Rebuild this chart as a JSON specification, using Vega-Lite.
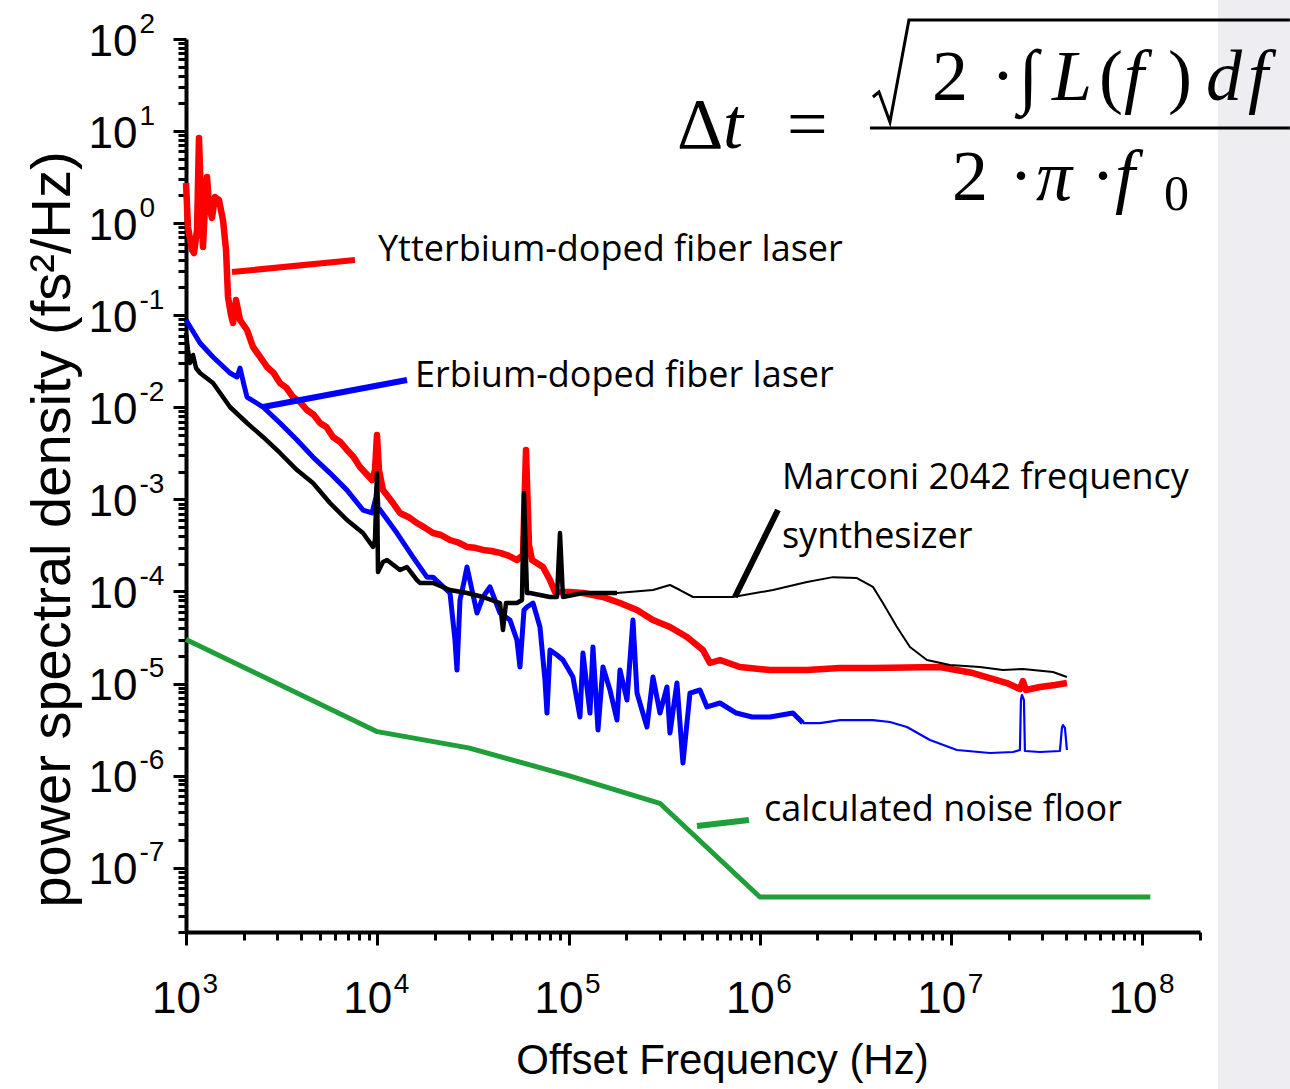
{
  "$schema": "https://vega.github.io/schema/vega-lite/v6.json",
  "autosize": {"type": "none"},
  "padding": {"left": 186, "top": 39, "right": 90, "bottom": 157},
  "width": 1014,
  "height": 893,
  "background": "white",
  "config": {"view": {"stroke": null}},
  "datasets": {
    "panel": [{"f": 2.48e8, "f2": 1e10, "p": 1e-11, "p2": 1e4}],
    "curves": [
      {"s":"Yb","f":1000,"p":2.73},{"s":"Yb","f":1024,"p":0.908},{"s":"Yb","f":1075,"p":0.511},{"s":"Yb","f":1101,"p":0.474},{"s":"Yb","f":1142,"p":0.842},{"s":"Yb","f":1169,"p":8.41},{"s":"Yb","f":1198,"p":1.78},{"s":"Yb","f":1227,"p":0.551},{"s":"Yb","f":1257,"p":1.57},{"s":"Yb","f":1288,"p":3.17},{"s":"Yb","f":1319,"p":1.57},{"s":"Yb","f":1367,"p":1.14},{"s":"Yb","f":1418,"p":1.92},{"s":"Yb","f":1488,"p":1.78},{"s":"Yb","f":1561,"p":1.08},{"s":"Yb","f":1619,"p":0.511},{"s":"Yb","f":1658,"p":0.158},{"s":"Yb","f":1719,"p":0.1005},{"s":"Yb","f":1761,"p":0.0823},{"s":"Yb","f":1826,"p":0.146},{"s":"Yb","f":1916,"p":0.0887},{"s":"Yb","f":2084,"p":0.0691},{"s":"Yb","f":2240,"p":0.0452},{"s":"Yb","f":2437,"p":0.0352},{"s":"Yb","f":2651,"p":0.0274},{"s":"Yb","f":2870,"p":0.0236},{"s":"Yb","f":3100,"p":0.01835},{"s":"Yb","f":3350,"p":0.0163},{"s":"Yb","f":3625,"p":0.01293},{"s":"Yb","f":3950,"p":0.0114},{"s":"Yb","f":4291,"p":0.00934},{"s":"Yb","f":4650,"p":0.0083},{"s":"Yb","f":5017,"p":0.00675},{"s":"Yb","f":5420,"p":0.0061},{"s":"Yb","f":5867,"p":0.00476},{"s":"Yb","f":6400,"p":0.0042},{"s":"Yb","f":6943,"p":0.00344},{"s":"Yb","f":7500,"p":0.0029},{"s":"Yb","f":8119,"p":0.00225},{"s":"Yb","f":9382,"p":0.00162},{"s":"Yb","f":9727,"p":0.00208},{"s":"Yb","f":9964,"p":0.005},{"s":"Yb","f":10207,"p":0.00208},{"s":"Yb","f":10710,"p":0.00126},{"s":"Yb","f":12080,"p":0.000913},{"s":"Yb","f":13140,"p":0.000711},{"s":"Yb","f":14600,"p":0.00064},{"s":"Yb","f":16120,"p":0.000553},{"s":"Yb","f":17800,"p":0.00049},{"s":"Yb","f":19550,"p":0.000431},{"s":"Yb","f":21500,"p":0.00041},{"s":"Yb","f":23990,"p":0.000362},{"s":"Yb","f":26500,"p":0.00034},{"s":"Yb","f":29440,"p":0.000304},{"s":"Yb","f":32500,"p":0.000298},{"s":"Yb","f":35690,"p":0.000282},{"s":"Yb","f":39500,"p":0.000275},{"s":"Yb","f":43790,"p":0.000262},{"s":"Yb","f":48500,"p":0.000245},{"s":"Yb","f":53740,"p":0.000219},{"s":"Yb","f":57770,"p":0.000249},{"s":"Yb","f":59900,"p":0.00344},{"s":"Yb","f":62090,"p":0.000319},{"s":"Yb","f":64390,"p":0.000219},{"s":"Yb","f":73480,"p":0.000184},{"s":"Yb","f":79940,"p":0.000133},{"s":"Yb","f":84910,"p":9.86e-5},{"s":"Yb","f":101700,"p":9.86e-5},{"s":"Yb","f":118900,"p":9.61e-5},{"s":"Yb","f":151300,"p":8.7e-5},{"s":"Yb","f":185700,"p":7.48e-5},{"s":"Yb","f":227900,"p":6.28e-5},{"s":"Yb","f":276200,"p":4.89e-5},{"s":"Yb","f":338900,"p":4.11e-5},{"s":"Yb","f":415900,"p":3.2e-5},{"s":"Yb","f":504000,"p":2.31e-5},{"s":"Yb","f":548400,"p":1.67e-5},{"s":"Yb","f":618600,"p":1.8e-5},{"s":"Yb","f":787000,"p":1.51e-5},{"s":"Yb","f":1129000,"p":1.4e-5},{"s":"Yb","f":1763000,"p":1.4e-5},{"s":"Yb","f":2623000,"p":1.47e-5},{"s":"Yb","f":3902000,"p":1.47e-5},{"s":"Yb","f":8741000,"p":1.51e-5},{"s":"Yb","f":13000000,"p":1.3e-5},{"s":"Yb","f":19570000,"p":1.012e-5},{"s":"Yb","f":22890000,"p":8.71e-6},{"s":"Yb","f":23730000,"p":1.064e-5},{"s":"Yb","f":24600000,"p":8.5e-6},{"s":"Yb","f":29120000,"p":9.16e-6},{"s":"Yb","f":34880000,"p":9.63e-6},{"s":"Yb","f":40300000,"p":1.012e-5},
      {"s":"Er","f":1000,"p":0.0887},{"s":"Er","f":1184,"p":0.0499},{"s":"Er","f":1384,"p":0.0352},{"s":"Er","f":1698,"p":0.02357},{"s":"Er","f":1848,"p":0.02133},{"s":"Er","f":1916,"p":0.02671},{"s":"Er","f":2010,"p":0.01746},{"s":"Er","f":2084,"p":0.01293},{"s":"Er","f":2526,"p":0.01007},{"s":"Er","f":3100,"p":0.00675},{"s":"Er","f":3804,"p":0.00441},{"s":"Er","f":4611,"p":0.00288},{"s":"Er","f":5658,"p":0.00193},{"s":"Er","f":6943,"p":0.00126},{"s":"Er","f":8418,"p":0.000766},{"s":"Er","f":9382,"p":0.000711},{"s":"Er","f":9845,"p":0.00106},{"s":"Er","f":9964,"p":0.00136},{"s":"Er","f":10085,"p":0.000826},{"s":"Er","f":12670,"p":0.000431},{"s":"Er","f":15370,"p":0.000236},{"s":"Er","f":18190,"p":0.000143},{"s":"Er","f":19550,"p":0.000143},{"s":"Er","f":23990,"p":9.61e-5},{"s":"Er","f":25480,"p":2.97e-5},{"s":"Er","f":26100,"p":1.4e-5},{"s":"Er","f":27060,"p":8.07e-5},{"s":"Er","f":28050,"p":0.000112},{"s":"Er","f":29440,"p":0.000184},{"s":"Er","f":33200,"p":5.83e-5},{"s":"Er","f":35690,"p":8.7e-5},{"s":"Er","f":38820,"p":0.000112},{"s":"Er","f":43790,"p":5.83e-5},{"s":"Er","f":49390,"p":4.89e-5},{"s":"Er","f":53700,"p":2.97e-5},{"s":"Er","f":55710,"p":1.51e-5},{"s":"Er","f":58470,"p":6.28e-5},{"s":"Er","f":60620,"p":6.77e-5},{"s":"Er","f":65170,"p":7.48e-5},{"s":"Er","f":70870,"p":4.11e-5},{"s":"Er","f":75270,"p":1.091e-5},{"s":"Er","f":77110,"p":4.78e-6},{"s":"Er","f":79940,"p":2.31e-5},{"s":"Er","f":86980,"p":2.04e-5},{"s":"Er","f":93480,"p":1.8e-5},{"s":"Er","f":105400,"p":1.176e-5},{"s":"Er","f":114700,"p":4.33e-6},{"s":"Er","f":118900,"p":2.14e-5},{"s":"Er","f":129400,"p":4.78e-6},{"s":"Er","f":134100,"p":2.49e-5},{"s":"Er","f":142500,"p":3.13e-6},{"s":"Er","f":151300,"p":1.51e-5},{"s":"Er","f":164600,"p":8.5e-6},{"s":"Er","f":179100,"p":4.01e-6},{"s":"Er","f":185700,"p":1.4e-5},{"s":"Er","f":202000,"p":6.62e-6},{"s":"Er","f":217100,"p":4.89e-5},{"s":"Er","f":227900,"p":7.88e-6},{"s":"Er","f":241900,"p":5.15e-6},{"s":"Er","f":256900,"p":3.37e-6},{"s":"Er","f":276200,"p":1.176e-5},{"s":"Er","f":300500,"p":4.78e-6},{"s":"Er","f":326900,"p":9.16e-6},{"s":"Er","f":338900,"p":2.9e-6},{"s":"Er","f":368600,"p":1.012e-5},{"s":"Er","f":396300,"p":1.369e-6},{"s":"Er","f":431200,"p":7.88e-6},{"s":"Er","f":486400,"p":8.5e-6},{"s":"Er","f":529000,"p":5.56e-6},{"s":"Er","f":618600,"p":6.14e-6},{"s":"Er","f":752700,"p":4.78e-6},{"s":"Er","f":912700,"p":4.33e-6},{"s":"Er","f":1129000,"p":4.33e-6},{"s":"Er","f":1489000,"p":4.78e-6},{"s":"Er","f":1680000,"p":3.72e-6},{"s":"Er","f":2062000,"p":3.72e-6},{"s":"Er","f":2623000,"p":4.01e-6},{"s":"Er","f":3902000,"p":4.01e-6},{"s":"Er","f":4787000,"p":3.82e-6},{"s":"Er","f":5874000,"p":3.37e-6},{"s":"Er","f":7750000,"p":2.43e-6},{"s":"Er","f":10720000,"p":1.895e-6},{"s":"Er","f":15950000,"p":1.758e-6},{"s":"Er","f":21040000,"p":1.803e-6},{"s":"Er","f":22890000,"p":1.895e-6},{"s":"Er","f":23170000,"p":6.62e-6},{"s":"Er","f":23450000,"p":7.5e-6},{"s":"Er","f":24020000,"p":6.62e-6},{"s":"Er","f":24310000,"p":1.848e-6},{"s":"Er","f":29120000,"p":1.803e-6},{"s":"Er","f":37040000,"p":1.848e-6},{"s":"Er","f":37950000,"p":3.29e-6},{"s":"Er","f":38410000,"p":3.54e-6},{"s":"Er","f":39350000,"p":3.29e-6},{"s":"Er","f":40300000,"p":1.895e-6},
      {"s":"Mc","f":1000,"p":0.0641},{"s":"Mc","f":1024,"p":0.0419},{"s":"Mc","f":1049,"p":0.0303},{"s":"Mc","f":1088,"p":0.037},{"s":"Mc","f":1128,"p":0.02671},{"s":"Mc","f":1184,"p":0.02357},{"s":"Mc","f":1384,"p":0.01835},{"s":"Mc","f":1698,"p":0.01007},{"s":"Mc","f":2084,"p":0.00675},{"s":"Mc","f":2526,"p":0.00476},{"s":"Mc","f":3100,"p":0.00319},{"s":"Mc","f":3804,"p":0.00208},{"s":"Mc","f":4611,"p":0.001505},{"s":"Mc","f":5658,"p":0.000913},{"s":"Mc","f":6943,"p":0.000597},{"s":"Mc","f":8418,"p":0.000431},{"s":"Mc","f":9496,"p":0.000304},{"s":"Mc","f":9727,"p":0.000362},{"s":"Mc","f":9964,"p":0.00193},{"s":"Mc","f":10085,"p":0.0001625},{"s":"Mc","f":10710,"p":0.0002087},{"s":"Mc","f":11240,"p":0.000219},{"s":"Mc","f":13140,"p":0.0001709},{"s":"Mc","f":14300,"p":0.000184},{"s":"Mc","f":16120,"p":0.000133},{"s":"Mc","f":16720,"p":0.0001234},{"s":"Mc","f":19550,"p":0.0001234},{"s":"Mc","f":23990,"p":0.0001036},{"s":"Mc","f":29440,"p":9.61e-5},{"s":"Mc","f":35690,"p":8.7e-5},{"s":"Mc","f":43790,"p":7.48e-5},{"s":"Mc","f":45410,"p":3.81e-5},{"s":"Mc","f":47080,"p":7.48e-5},{"s":"Mc","f":53700,"p":7.48e-5},{"s":"Mc","f":57070,"p":8.07e-5},{"s":"Mc","f":58470,"p":0.001172},{"s":"Mc","f":60620,"p":9.61e-5},{"s":"Mc","f":62840,"p":9.61e-5},{"s":"Mc","f":79940,"p":8.7e-5},{"s":"Mc","f":86980,"p":8.7e-5},{"s":"Mc","f":90180,"p":0.000431},{"s":"Mc","f":93480,"p":8.7e-5},{"s":"Mc","f":118900,"p":9.61e-5},{"s":"Mc","f":179100,"p":9.61e-5},{"s":"Mc","f":276200,"p":0.0001036},{"s":"Mc","f":338900,"p":0.0001174},{"s":"Mc","f":382200,"p":0.0001036},{"s":"Mc","f":447000,"p":8.7e-5},{"s":"Mc","f":723400,"p":8.7e-5},{"s":"Mc","f":1171000,"p":0.0001036},{"s":"Mc","f":1763000,"p":0.0001266},{"s":"Mc","f":2411000,"p":0.000143},{"s":"Mc","f":3218000,"p":0.0001399},{"s":"Mc","f":3902000,"p":0.000112},{"s":"Mc","f":4399000,"p":7.48e-5},{"s":"Mc","f":5208000,"p":4.11e-5},{"s":"Mc","f":6090000,"p":2.49e-5},{"s":"Mc","f":7474000,"p":1.8e-5},{"s":"Mc","f":9857000,"p":1.588e-5},{"s":"Mc","f":14140000,"p":1.51e-5},{"s":"Mc","f":18650000,"p":1.4e-5},{"s":"Mc","f":23730000,"p":1.437e-5},{"s":"Mc","f":34050000,"p":1.333e-5},{"s":"Mc","f":40300000,"p":1.176e-5},
      {"s":"NF","f":1000,"p":3e-5},{"s":"NF","f":10000,"p":3e-6},{"s":"NF","f":30000,"p":2e-6},{"s":"NF","f":100000,"p":1e-6},{"s":"NF","f":300000,"p":5e-7},{"s":"NF","f":1000000,"p":4.8e-8},{"s":"NF","f":110000000,"p":4.8e-8}
    ],
    "leaders": [
      {"s":"Yb","f":1740,"p":0.2946,"f2":7645,"p2":0.3978},
      {"s":"Er","f":2526,"p":0.01007,"f2":14300,"p2":0.01978},
      {"s":"Mc","f":741000,"p":8.7e-5,"f2":1243300,"p2":0.000766},
      {"s":"NF","f":469100,"p":2.833e-7,"f2":877100,"p2":3.292e-7}
    ],
    "labels": [
      {"f":10085,"p":0.511,"t":"Ytterbium-doped fiber laser"},
      {"f":15740,"p":0.02186,"t":"Erbium-doped fiber laser"},
      {"f":1305000,"p":0.001705,"t":"Marconi 2042 frequency"},
      {"f":1305000,"p":0.00039,"t":"synthesizer"},
      {"f":1050600,"p":4.23e-7,"t":"calculated noise floor"}
    ],
    "fup": [
      {"f":368600,"p":6.55,"t":"Δ"},
      {"f":1386000,"p":6.55,"t":"="},
      {"f":7937000,"p":21.75,"t":"2"},
      {"f":16150000,"p":21.75,"t":"·"},
      {"f":22500000,"p":21.75,"t":"∫"},
      {"f":59240000,"p":21.75,"t":"("},
      {"f":136000000,"p":21.75,"t":")"},
      {"f":10097000,"p":1.784,"t":"2"},
      {"f":20050000,"p":1.784,"t":"·"},
      {"f":53810000,"p":1.784,"t":"·"}
    ],
    "fit": [
      {"f":641300,"p":6.55,"t":"t"},
      {"f":33650000,"p":21.75,"t":"L"},
      {"f":80000000,"p":21.75,"t":"f"},
      {"f":214700000,"p":21.75,"t":"d"},
      {"f":356100000,"p":21.75,"t":"f"},
      {"f":27750000,"p":1.784,"t":"π"},
      {"f":71810000,"p":1.784,"t":"f"}
    ],
    "fsub": [{"f":129580000,"p":1.389,"t":"0"}],
    "radical": [
      {"f":3900000,"p":23.44},{"f":4194000,"p":26.57},{"f":4787000,"p":12.55},{"f":6017000,"p":160.8},{"f":590000000,"p":160.8}
    ],
    "bar": [{"f":3763000,"f2":590000000,"p":10.8}]
  },
  "layer": [
    {
      "encoding": {
        "x": {
          "field": "f", "type": "quantitative",
          "scale": {"type": "log", "domain": [1000, 200000000], "nice": false},
          "axis": {
            "orient": "bottom",
            "values": [1000,2000,3000,4000,5000,6000,7000,8000,9000,10000,20000,30000,40000,50000,60000,70000,80000,90000,100000,200000,300000,400000,500000,600000,700000,800000,900000,1000000,2000000,3000000,4000000,5000000,6000000,7000000,8000000,9000000,10000000,20000000,30000000,40000000,50000000,60000000,70000000,80000000,90000000,100000000,200000000],
            "labelExpr": "abs(log(datum.value)/LN10 - round(log(datum.value)/LN10)) < 0.001 ? '10' : ''",
            "labelFlush": false, "labelOverlap": false,
            "labelFont": "Liberation Sans", "labelFontSize": 44, "labelColor": "black",
            "labelPadding": 67, "labelBaseline": "alphabetic", "labelAlign": "center", "labelOffset": -10,
            "tickColor": "black", "tickWidth": 3,
            "tickSize": {"condition": {"test": "abs(log(datum.value)/LN10 - round(log(datum.value)/LN10)) < 0.001", "value": 13}, "value": 8},
            "domainColor": "black", "domainWidth": 4, "grid": false,
            "title": "Offset Frequency (Hz)",
            "titleFont": "Liberation Sans", "titleFontSize": 42, "titleFontWeight": "normal", "titleColor": "black",
            "titleX": 536, "titleY": 128, "titleBaseline": "middle", "titleAlign": "center"
          }
        },
        "y": {
          "field": "p", "type": "quantitative",
          "scale": {"type": "log", "domain": [2e-8, 100], "nice": false},
          "axis": {
            "orient": "left",
            "values": [2e-8,3e-8,4e-8,5e-8,6e-8,7e-8,8e-8,9e-8,1e-7,2e-7,3e-7,4e-7,5e-7,6e-7,7e-7,8e-7,9e-7,1e-6,2e-6,3e-6,4e-6,5e-6,6e-6,7e-6,8e-6,9e-6,1e-5,2e-5,3e-5,4e-5,5e-5,6e-5,7e-5,8e-5,9e-5,0.0001,0.0002,0.0003,0.0004,0.0005,0.0006,0.0007,0.0008,0.0009,0.001,0.002,0.003,0.004,0.005,0.006,0.007,0.008,0.009,0.01,0.02,0.03,0.04,0.05,0.06,0.07,0.08,0.09,0.1,0.2,0.3,0.4,0.5,0.6,0.7,0.8,0.9,1,2,3,4,5,6,7,8,9,10,20,30,40,50,60,70,80,90,100],
            "labelExpr": "abs(log(datum.value)/LN10 - round(log(datum.value)/LN10)) < 0.001 ? '10' : ''",
            "labelFlush": false, "labelOverlap": false,
            "labelFont": "Liberation Sans", "labelFontSize": 44, "labelColor": "black",
            "labelPadding": 36, "labelAlign": "right", "labelBaseline": "middle", "labelOffset": 3,
            "tickColor": "black", "tickWidth": 3,
            "tickSize": {"condition": {"test": "abs(log(datum.value)/LN10 - round(log(datum.value)/LN10)) < 0.001", "value": 13}, "value": 8},
            "domainColor": "black", "domainWidth": 4, "grid": false,
            "title": "power spectral density (fs²/Hz)",
            "titleFont": "Liberation Sans", "titleFontSize": 56, "titleFontWeight": "normal", "titleColor": "black",
            "titleX": -134, "titleY": 490, "titleAngle": -90, "titleBaseline": "middle", "titleAlign": "center"
          }
        }
      },
      "layer": [
        {"data": {"name": "panel"}, "mark": {"type": "rect", "color": "#ededf2"}, "encoding": {"x2": {"field": "f2"}, "y2": {"field": "p2"}}},
        {"data": {"name": "curves"}, "transform": [{"filter": "datum.s == 'Yb'"}], "mark": {"type": "line", "color": "#ff0000", "strokeWidth": 6.5, "strokeJoin": "round"}, "encoding": {}},
        {"data": {"name": "curves"}, "transform": [{"filter": "datum.s == 'Er' && datum.f <= 1680000"}], "mark": {"type": "line", "color": "#0000ff", "strokeWidth": 5, "strokeJoin": "round"}, "encoding": {}},
        {"data": {"name": "curves"}, "transform": [{"filter": "datum.s == 'Er' && datum.f >= 1680000"}], "mark": {"type": "line", "color": "#0000ff", "strokeWidth": 2.2, "strokeJoin": "round"}, "encoding": {}},
        {"data": {"name": "curves"}, "transform": [{"filter": "datum.s == 'Mc' && datum.f <= 179100"}], "mark": {"type": "line", "color": "#000000", "strokeWidth": 4.5, "strokeJoin": "round"}, "encoding": {}},
        {"data": {"name": "curves"}, "transform": [{"filter": "datum.s == 'Mc' && datum.f >= 179100"}], "mark": {"type": "line", "color": "#000000", "strokeWidth": 2, "strokeJoin": "round"}, "encoding": {}},
        {"data": {"name": "curves"}, "transform": [{"filter": "datum.s == 'NF'"}], "mark": {"type": "line", "color": "#1f9e3a", "strokeWidth": 5, "strokeJoin": "round"}, "encoding": {}},
        {"data": {"name": "leaders"}, "mark": {"type": "rule", "strokeWidth": 6}, "encoding": {"x2": {"field": "f2"}, "y2": {"field": "p2"}, "color": {"field": "s", "type": "nominal", "scale": {"domain": ["Yb","Er","Mc","NF"], "range": ["#ff0000","#0000ff","#000000","#1f9e3a"]}, "legend": null}}},
        {"data": {"name": "labels"}, "mark": {"type": "text", "font": "Open Sans", "fontSize": 36, "align": "left", "baseline": "middle", "color": "black"}, "encoding": {"text": {"field": "t"}}},
        {"data": {"name": "fup"}, "mark": {"type": "text", "font": "Liberation Serif", "fontSize": 72, "align": "left", "baseline": "alphabetic", "color": "black"}, "encoding": {"text": {"field": "t"}}},
        {"data": {"name": "fit"}, "mark": {"type": "text", "font": "Liberation Serif", "fontStyle": "italic", "fontSize": 72, "align": "left", "baseline": "alphabetic", "color": "black"}, "encoding": {"text": {"field": "t"}}},
        {"data": {"name": "fsub"}, "mark": {"type": "text", "font": "Liberation Serif", "fontSize": 50, "align": "left", "baseline": "alphabetic", "color": "black"}, "encoding": {"text": {"field": "t"}}},
        {"data": {"name": "radical"}, "mark": {"type": "line", "color": "black", "strokeWidth": 3}, "encoding": {}},
        {"data": {"name": "bar"}, "mark": {"type": "rule", "color": "black", "strokeWidth": 3}, "encoding": {"x2": {"field": "f2"}}}
      ]
    },
    {
      "data": {"name": "panel"},
      "mark": {"type": "point", "opacity": 0},
      "encoding": {
        "x": {
          "field": "f", "type": "quantitative",
          "scale": {"type": "log", "domain": [1000, 200000000], "nice": false},
          "axis": {
            "orient": "bottom",
            "values": [1000,10000,100000,1000000,10000000,100000000],
            "labelExpr": "'' + round(log(datum.value)/LN10)",
            "labelFlush": false, "labelOverlap": false,
            "labelFont": "Liberation Sans", "labelFontSize": 28, "labelColor": "black",
            "labelPadding": 60, "labelBaseline": "alphabetic", "labelAlign": "left", "labelOffset": 16,
            "ticks": false, "tickSize": 0, "domain": false, "grid": false, "title": null
          }
        },
        "y": {
          "field": "p", "type": "quantitative",
          "scale": {"type": "log", "domain": [2e-8, 100], "nice": false},
          "axis": {
            "orient": "left",
            "values": [1e-7,1e-6,1e-5,0.0001,0.001,0.01,0.1,1,10,100],
            "labelExpr": "'' + round(log(datum.value)/LN10)",
            "labelFlush": false, "labelOverlap": false,
            "labelFont": "Liberation Sans", "labelFontSize": 28, "labelColor": "black",
            "labelPadding": 47, "labelAlign": "left", "labelBaseline": "middle", "labelOffset": -15,
            "ticks": false, "tickSize": 0, "domain": false, "grid": false, "title": null
          }
        }
      }
    }
  ],
  "resolve": {"axis": {"x": "independent", "y": "independent"}}
}
